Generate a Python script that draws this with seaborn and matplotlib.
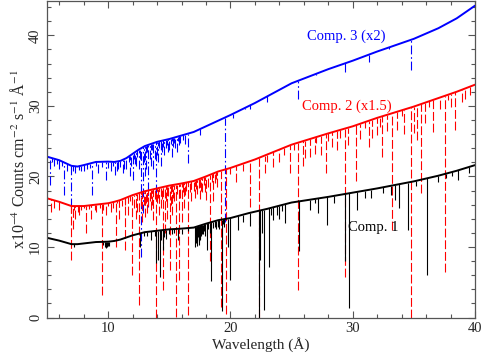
import matplotlib
matplotlib.use('Agg')
import matplotlib.pyplot as plt
import seaborn as sns
import numpy as np
import pandas as pd
from matplotlib.ticker import MultipleLocator

# continuum anchor points (wavelength, flux)
c1_wave = [5, 6, 7, 7.5, 8, 9, 10, 10.5, 11, 11.5, 12, 13, 14, 15, 16, 17, 18, 19, 20, 21.5, 23, 25, 28, 30, 32,
           35, 37, 38.5, 40]
c1_flux = [11.3, 10.9, 10.4, 10.4, 10.5, 10.7, 10.75, 10.85, 11.05, 11.35, 11.65, 12.1, 12.3, 12.5, 12.6, 12.75,
           13.3, 13.8, 14.1, 14.8, 15.4, 16.3, 17.1, 17.7, 18.3, 19.3, 20.1, 20.8, 21.6]
c2_wave = [5, 6, 7, 8, 9, 10, 10.5, 11, 11.5, 12, 13, 14, 15, 16, 17, 18, 19, 20, 22, 25, 28, 30, 32, 35, 37,
           38.5, 40]
c2_flux = [16.9, 16.4, 15.8, 15.8, 16.0, 16.2, 16.4, 16.65, 17.0, 17.35, 17.9, 18.3, 18.7, 19.0, 19.35, 20.0,
           20.7, 21.2, 22.4, 24.5, 26.1, 27.1, 28.3, 29.9, 31.1, 32.0, 33.0]
c3_wave = [5, 6, 7, 7.5, 8, 9, 10, 10.5, 11, 11.5, 12, 12.5, 13, 14, 15, 16, 17, 18, 19, 20, 22, 25, 28, 30, 32,
           35, 37, 38.5, 40]
c3_flux = [22.8, 22.3, 21.5, 21.4, 21.6, 22.05, 22.1, 22.05, 22.2, 22.6, 23.2, 23.8, 24.3, 24.9, 25.3, 25.8,
           26.3, 27.1, 27.9, 28.7, 30.4, 33.2, 35.2, 36.4, 37.7, 39.5, 41.0, 42.4, 44.2]

# strong absorption lines: wavelength and the flux at the bottom of the line
l1_wave = [7.2, 9.75, 9.85, 9.95, 10.05, 12.58, 13.5, 13.95, 14.07, 14.26, 14.48, 14.7, 15.2, 15.7, 16.0,
           17.1, 17.2, 17.3, 17.4, 17.5, 17.6, 17.75, 18.1, 18.42, 18.7, 18.85, 19.0, 19.29, 19.78, 19.97,
           20.65, 21.0, 21.6, 22.36, 22.45, 22.58, 22.71, 23.12, 23.5, 23.8, 24.0, 24.5, 25.62, 26.5, 27.2,
           27.88, 28.5, 29.37, 29.72, 30.37, 31.46, 32.5, 33.15, 33.44, 33.77, 34.48, 36.05, 36.95, 37.6,
           38.6, 39.47]
l1_flux = [10.0, 10.0, 9.9, 10.1, 10.2, 10.0, 11.0, 7.7, 8.1, 5.8, 9.6, 11.2, 11.8, 11.0, 11.9,
           10.0, 10.5, 10.8, 10.3, 11.0, 11.5, 11.8, 9.6, 5.2, 12.8, 12.5, 12.9, 0.9, 10.0, 5.3,
           12.4, 13.5, 13.0, 0.0, 8.2, 12.0, 1.1, 7.2, 13.8, 14.5, 14.0, 13.4, 9.5, 15.2, 14.8,
           13.1, 16.3, 8.0, 1.3, 15.2, 16.9, 17.6, 17.3, 16.7, 15.5, 12.4, 6.0, 19.2, 19.8,
           19.5, 20.5]

l2_wave = [5.3, 5.6, 6.0, 6.93, 7.1, 7.3, 7.6, 8.18, 8.6, 9.0, 9.51, 9.8, 10.2, 10.62, 10.9, 11.36, 11.6,
           11.98, 12.3, 12.55, 12.8, 13.0, 13.2, 13.5, 13.7, 13.9, 14.2, 14.48, 14.62, 14.8, 15.02, 15.2,
           15.51, 15.78, 16.0, 16.2, 16.57, 16.8, 17.1, 17.3, 17.5, 17.7, 18.0, 18.37, 18.6, 18.9, 19.2,
           19.62, 19.97, 20.46, 21.6, 22.3, 22.8, 23.44, 24.0, 24.89, 25.56, 25.9, 26.1, 26.52, 26.9, 27.4,
           27.84, 28.3, 28.7, 29.37, 29.6, 30.24, 30.6, 31.3, 31.6, 32.0, 32.4, 32.8, 33.22, 33.66, 34.2,
           34.8, 35.0, 35.26, 35.59, 35.9, 36.57, 37.1, 37.52, 38.0, 38.39, 38.9, 39.2, 39.6]
l2_flux = [15.0, 15.5, 15.3, 8.2, 12.5, 14.0, 14.5, 12.0, 14.0, 15.0, 3.2, 14.5, 15.0, 10.0, 14.0, 9.6, 14.5,
           6.0, 14.0, 1.8, 13.5, 14.2, 14.8, 15.2, 13.8, 0.0, 14.5, 3.9, 12.0, 14.0, 6.7, 14.5,
           0.1, 5.3, 13.5, 15.5, 0.4, 16.5, 17.0, 17.5, 16.8, 17.8, 16.7, 8.0, 16.5, 18.5, 1.5,
           0.5, 20.4, 19.2, 15.7, 0.0, 20.5, 21.4, 22.0, 20.5, 3.9, 21.5, 22.6, 22.8, 23.2, 23.0,
           20.5, 24.2, 23.8, 5.8, 24.5, 19.3, 25.3, 24.2, 25.5, 25.8, 22.8, 26.5, 12.4, 26.6, 26.0,
           0.0, 26.2, 25.2, 17.6, 27.5, 26.3, 29.5, 6.5, 29.8, 26.6, 30.5, 30.9, 31.5]

l3_wave = [5.24, 5.6, 6.0, 6.39, 6.93, 7.3, 7.8, 8.3, 8.72, 9.2, 9.8, 10.2, 10.54, 10.8, 11.2, 11.5, 11.8,
           12.03, 12.3, 12.7, 12.85, 13.0, 13.1, 13.26, 13.5, 13.7, 13.93, 14.1, 14.3, 14.6, 14.9, 15.2,
           15.5, 15.8, 16.52, 17.5, 19.56, 20.2, 21.2, 21.6, 25.56, 29.37, 31.3, 34.77]
l3_flux = [18.8, 21.5, 21.0, 17.4, 15.7, 20.5, 20.8, 21.0, 17.4, 20.5, 19.5, 20.8, 20.2, 21.0, 20.5, 21.0, 20.0,
           19.5, 21.5, 8.6, 14.8, 20.0, 21.0, 15.7, 21.5, 21.0, 17.6, 22.0, 21.5, 23.0, 23.5, 22.8,
           24.0, 24.5, 21.9, 25.8, 13.5, 28.3, 29.5, 29.6, 30.9, 34.8, 36.2, 35.1]

# weak lines (the dense forests)
w1_wave = [9.6, 9.9, 12.9, 13.2, 13.8, 14.35, 14.6, 15.0, 15.4, 16.5, 17.15, 17.25, 17.35, 17.45, 17.55,
           17.65, 17.8, 17.9, 18.2, 18.3, 18.55, 18.95, 19.1, 19.4, 19.5, 23.3, 24.2, 26.9, 31.0, 35.2, 38.1]
w1_flux = [10.3, 10.0, 11.5, 11.5, 11.6, 11.0, 11.4, 11.8, 12.0, 12.2, 11.0, 10.2, 11.4, 10.8, 11.2,
           11.8, 12.2, 11.5, 12.6, 12.0, 12.7, 13.0, 12.6, 13.3, 12.8, 14.6, 15.1, 16.2, 17.0, 18.6, 20.0]
w2_wave = [7.0, 7.2, 7.5, 7.8, 8.0, 8.4, 8.9, 9.3, 9.6, 10.0, 10.4, 10.7, 11.1, 11.4, 11.8, 12.1, 12.4,
           12.7, 12.9, 13.1, 13.3, 13.4, 13.6, 13.8, 14.0, 14.1, 14.3, 14.4, 14.7, 14.9, 15.1, 15.3, 15.4,
           15.6, 15.9, 16.1, 16.3, 16.4, 16.7, 17.0, 17.2, 17.4, 17.6, 17.8, 17.9, 18.2, 18.5, 18.7, 18.8,
           21.0, 23.0, 24.4, 25.2, 27.0, 28.0, 29.0, 31.0, 32.2, 34.0, 36.2, 37.8]
w2_flux = [14.8, 15.2, 15.0, 15.2, 15.5, 15.4, 15.2, 15.5, 15.3, 15.8, 15.5, 16.2, 15.8, 16.0, 16.5, 15.5, 15.0,
           15.8, 16.0, 16.2, 15.8, 16.5, 16.0, 16.8, 16.2, 17.0, 15.5, 16.8, 16.5, 17.2, 16.0, 17.0, 16.5,
           17.5, 17.0, 17.8, 17.3, 18.0, 17.8, 18.0, 18.2, 18.4, 18.0, 18.8, 17.8, 18.5, 19.2, 19.0, 19.6,
           20.8, 22.0, 23.0, 23.8, 24.8, 25.0, 25.5, 26.8, 27.0, 28.6, 29.8, 30.8]
w3_wave = [5.4, 5.8, 6.2, 6.6, 7.1, 7.6, 8.0, 8.5, 9.0, 9.5, 10.0, 10.4, 10.7, 11.0, 11.3, 11.7, 11.9, 12.1,
           12.2, 12.4, 12.5, 12.6, 12.9, 13.2, 13.4, 13.6, 13.8, 14.0, 14.2, 14.4, 14.5, 14.7, 14.8, 15.0,
           15.1, 15.3, 15.4, 15.6, 15.7, 15.9, 16.1, 16.3, 23.0, 27.0, 33.0]
w3_flux = [22.0, 21.8, 21.5, 20.8, 20.8, 20.9, 20.8, 21.2, 21.5, 21.3, 21.2, 21.5, 20.8, 21.3, 21.0, 22.0, 21.5,
           22.5, 21.8, 22.8, 21.0, 22.5, 22.0, 23.5, 22.5, 23.8, 22.5, 23.0, 24.0, 23.5, 24.2, 24.0, 24.5,
           23.8, 24.6, 24.2, 24.8, 23.5, 25.0, 24.8, 25.2, 24.6, 30.6, 34.4, 38.0]

components = [
    ("Comp. 1", c1_wave, c1_flux, l1_wave + w1_wave, l1_flux + w1_flux, "black", "solid"),
    ("Comp. 2 (x1.5)", c2_wave, c2_flux, l2_wave + w2_wave, l2_flux + w2_flux, "red", (0, (8, 2.5))),
    ("Comp. 3 (x2)", c3_wave, c3_flux, l3_wave + w3_wave, l3_flux + w3_flux, "blue", (0, (8, 2.5, 1.5, 2.5))),
]

sns.set_theme(style="ticks")
plt.rcParams['font.family'] = ['Liberation Serif', 'DejaVu Serif']
plt.rcParams['mathtext.fontset'] = 'stix'

fig = plt.figure(figsize=(4.92, 3.54), dpi=100)
ax = fig.add_axes([0.0955, 0.103, 0.87, 0.893])

for name, cw, cf, lw_, lf, color, ls in components[::-1]:
    df = pd.DataFrame({"wave": cw, "flux": cf})
    sns.lineplot(data=df, x="wave", y="flux", color=color, lw=1.4, sort=False,
                 estimator=None, ax=ax)
    top = np.interp(lw_, cw, cf)
    ax.vlines(lw_, lf, top, colors=color, linestyles=ls, lw=0.8)

ax.text(29.5, 39.9, "Comp. 3 (x2)", color="blue", fontsize=10.5, ha="center", va="center")
ax.text(29.5, 29.9, "Comp. 2 (x1.5)", color="red", fontsize=10.5, ha="center", va="center")
ax.text(31.7, 12.8, "Comp. 1", color="black", fontsize=10.5, ha="center", va="center")

ax.set_xlim(5, 40)
ax.set_ylim(0, 44.8)
ax.xaxis.set_major_locator(MultipleLocator(10))
ax.xaxis.set_minor_locator(MultipleLocator(2))
ax.yaxis.set_major_locator(MultipleLocator(10))
ax.yaxis.set_minor_locator(MultipleLocator(2))
ax.tick_params(which="both", direction="in", top=True, right=True, labelsize=10.5, color="#555555")
ax.tick_params(which="major", length=5, width=0.8)
ax.tick_params(which="minor", length=3, width=0.8)
for lab in ax.get_yticklabels():
    lab.set_rotation(90)
    lab.set_va("center")
for sp in ax.spines.values():
    sp.set_color("#555555")
    sp.set_linewidth(0.9)

ax.set_xlabel("Wavelength (Å)", fontsize=11, labelpad=1)
ax.set_ylabel("x10$^{-4}$ Counts cm$^{-2}$ s$^{-1}$ Å$^{-1}$", fontsize=11.5, labelpad=1)

fig.savefig("out.png", dpi=100)
plt.close(fig)
